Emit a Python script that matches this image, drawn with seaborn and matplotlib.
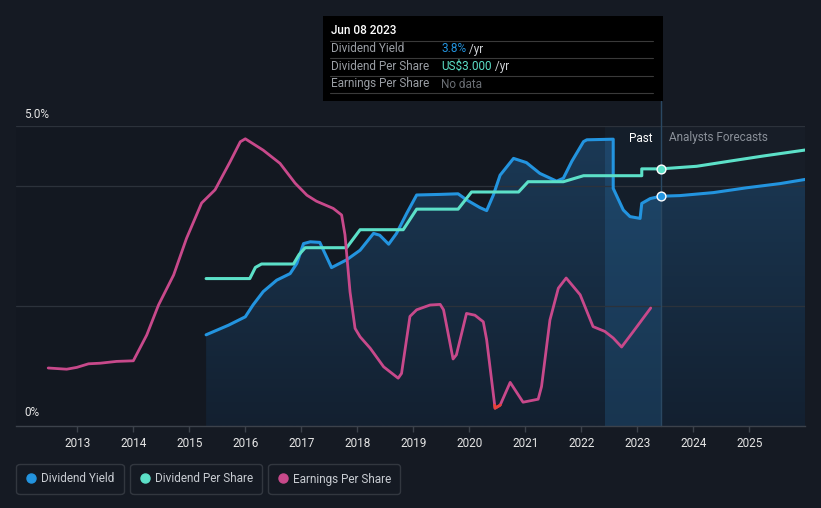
import numpy as np
import pandas as pd
import matplotlib
matplotlib.use("Agg")
import matplotlib.pyplot as plt
import seaborn as sns
from matplotlib.colors import LinearSegmentedColormap
from matplotlib.patches import Rectangle
from matplotlib.lines import Line2D

# ---------------- data ----------------
yield_years = [2015.30, 2015.70, 2016.00, 2016.14, 2016.32, 2016.56, 2016.80, 2016.92, 2017.04, 2017.16,
               2017.33, 2017.42, 2017.54, 2017.81, 2018.05, 2018.29, 2018.40, 2018.56, 2018.70, 2018.88,
               2019.06, 2019.48, 2019.80, 2019.95, 2020.19, 2020.31, 2020.43, 2020.55, 2020.79, 2021.02,
               2021.26, 2021.56, 2021.68, 2021.83, 2022.04, 2022.10, 2022.57, 2022.57, 2022.75, 2022.87,
               2023.05, 2023.08, 2023.23, 2023.42, 2023.76, 2024.36, 2024.95, 2025.55, 2026.00]
yield_pct = [1.52, 1.68, 1.82, 2.02, 2.24, 2.43, 2.54, 2.71, 3.04, 3.07,
             3.06, 2.88, 2.64, 2.77, 2.93, 3.21, 3.18, 3.03, 3.21, 3.54,
             3.85, 3.86, 3.87, 3.77, 3.64, 3.59, 3.85, 4.18, 4.46, 4.39,
             4.21, 4.08, 4.13, 4.41, 4.74, 4.77, 4.78, 3.96, 3.60, 3.49,
             3.46, 3.71, 3.79, 3.83, 3.84, 3.89, 3.97, 4.04, 4.11]

dps_years = [2015.30, 2016.08, 2016.18, 2016.29, 2016.86, 2016.96, 2017.07, 2017.81, 2018.05, 2018.82,
             2019.06, 2019.80, 2020.04, 2020.88, 2021.05, 2021.68, 2022.04, 2023.08, 2023.08, 2023.42,
             2024.06, 2024.65, 2025.25, 2026.00]
dps_usd = [1.72, 1.72, 1.85, 1.89, 1.89, 2.00, 2.08, 2.08, 2.29, 2.29,
           2.53, 2.53, 2.73, 2.73, 2.85, 2.85, 2.92, 2.92, 3.00, 3.00,
           3.03, 3.09, 3.15, 3.22]

eps_years = [2012.48, 2012.81, 2012.99, 2013.20, 2013.41, 2013.70, 2014.00, 2014.24, 2014.45, 2014.72,
             2014.95, 2015.22, 2015.46, 2015.73, 2015.91, 2016.00, 2016.32, 2016.62, 2016.89, 2017.10,
             2017.27, 2017.57, 2017.72, 2017.78, 2017.87, 2017.96, 2018.05, 2018.23, 2018.47, 2018.73,
             2018.79, 2018.94, 2019.06, 2019.30, 2019.48, 2019.54, 2019.71, 2019.77, 2019.95, 2020.10,
             2020.25, 2020.31, 2020.46, 2020.55, 2020.73, 2020.96, 2021.23, 2021.29, 2021.44, 2021.59,
             2021.73, 2021.98, 2022.21, 2022.42, 2022.57, 2022.72, 2022.93, 2023.24]
eps_val = [0.60, 0.58, 0.61, 0.67, 0.68, 0.71, 0.72, 1.15, 1.65, 2.15,
           2.76, 3.35, 3.57, 4.04, 4.37, 4.42, 4.23, 4.01, 3.68, 3.48,
           3.38, 3.26, 3.15, 2.82, 1.87, 1.26, 1.12, 0.93, 0.62, 0.43,
           0.51, 1.46, 1.57, 1.65, 1.66, 1.57, 0.75, 0.82, 1.51, 1.48,
           1.37, 1.07, -0.07, -0.02, 0.36, 0.03, 0.08, 0.29, 1.40, 1.93,
           2.10, 1.82, 1.29, 1.21, 1.10, 0.95, 1.21, 1.60]

year_ticks = list(range(2013, 2026))
now_year = 2023.42
past_start = 2022.43
tooltip_date = "Jun 08 2023"
tooltip_yield = "3.8%"
tooltip_dps = "US$3.000"

# ---------------- style ----------------
BG = "#151a23"
AX_BG = "#131821"
BLUE = "#2394df"
TEAL = "#5ce0c8"
PINK = "#c8498b"
GRID = "#2c323b"

sns.set_theme(style="dark")
plt.rcParams["font.family"] = ["Roboto", "DejaVu Sans"]

W, H = 821, 508
fig = plt.figure(figsize=(W / 100, H / 100), dpi=100, facecolor=BG)
L, R, T, B = 16, 805, 126, 426
ax = fig.add_axes([L / W, 1 - B / H, (R - L) / W, (B - T) / H])
ax.set_facecolor(AX_BG)
XMIN, XMAX = 2011.905, 2025.995
ax.set_xlim(XMIN, XMAX)
ax.set_ylim(0, 5)

# forecast background
ax.axvspan(now_year, XMAX, color="#171d27", zorder=0.2, lw=0)

# gradient fill under dividend yield
poly = ax.fill_between(yield_years, yield_pct, 0, color="none", lw=0)
fill_path = poly.get_paths()[0]
cmap = LinearSegmentedColormap.from_list("g", ["#132030", "#1b3a57"])
grad = np.linspace(0, 1, 256).reshape(-1, 1)
im = ax.imshow(grad, extent=[XMIN, XMAX, 0, 5], origin="lower", aspect="auto",
               cmap=cmap, zorder=0.5, interpolation="bilinear")
im.set_clip_path(fill_path, transform=ax.transData)

# past band: faint over full height, stronger inside the fill
ax.axvspan(past_start, now_year, color="#2a6fa6", alpha=0.07, zorder=0.6, lw=0)
band = ax.axvspan(past_start, now_year, color="#2a6fa6", alpha=0.22, zorder=0.6, lw=0)
band.set_clip_path(fill_path, transform=ax.transData)

# grid lines
for gy in [2, 4, 5]:
    ax.axhline(gy, color=GRID, lw=0.9, zorder=0.7)

# vertical "now" line
ax.plot([now_year, now_year], [0, 5.42], color="#2a4862", lw=1, zorder=0.8, clip_on=False)

line_kw = dict(estimator=None, sort=False, legend=False, solid_joinstyle="round",
               solid_capstyle="round")

# dividend yield
df_y = pd.DataFrame({"year": yield_years, "value": yield_pct})
sns.lineplot(data=df_y, x="year", y="value", ax=ax, color=BLUE, lw=2.2, zorder=3, **line_kw)

# DPS on hidden twin axis
ax2 = ax.twinx()
ax2.set_ylim(0, 3.5)
df_d = pd.DataFrame({"year": dps_years, "value": dps_usd})
sns.lineplot(data=df_d, x="year", y="value", ax=ax2, color=TEAL, lw=2.2, zorder=3, **line_kw)

# EPS on hidden twin axis
ax3 = ax.twinx()
ax3.set_ylim(-22 / 60, 5 - 22 / 60)
df_e = pd.DataFrame({"year": eps_years, "value": eps_val})
sns.lineplot(data=df_e, x="year", y="value", ax=ax3, color=PINK, lw=2.0, zorder=2, **line_kw)
neg = ax3.plot(eps_years, eps_val, color="#e8413a", lw=2.0, zorder=2.1,
               solid_joinstyle="round")[0]
clip = Rectangle((XMIN, -1), XMAX - XMIN, 1, transform=ax3.transData)
neg.set_clip_path(clip)

for a in (ax2, ax3):
    a.set_xlim(XMIN, XMAX)
    a.set_yticks([])
    a.set_ylabel("")
    a.patch.set_visible(False)
    for s in a.spines.values():
        s.set_visible(False)
    a.grid(False)

# markers at now
ax.scatter([now_year], [yield_pct[yield_years.index(now_year)]], s=40, color=BLUE,
           edgecolor="white", linewidth=1, zorder=5)
ax2.scatter([now_year], [dps_usd[dps_years.index(now_year)]], s=40, color=TEAL,
            edgecolor="white", linewidth=1, zorder=5)

# axes styling
ax.grid(False)
for s in ["top", "right", "left"]:
    ax.spines[s].set_visible(False)
ax.spines["bottom"].set_color("#3c424b")
ax.spines["bottom"].set_linewidth(1)
ax.set_xticks(year_ticks)
ax.set_xticklabels([str(y) for y in year_ticks])
ax.tick_params(axis="x", colors="#3c424b", length=4, width=1, direction="out",
               labelcolor="#e6e6e6", labelsize=8.5, pad=4, bottom=True)
ax.set_yticks([])
ax.set_xlabel("")
ax.set_ylabel("")

fig.text(24 / W, 1 - 114 / H, "5.0%", color="#e6e6e6", fontsize=8.5, va="center", ha="left")
fig.text(24 / W, 1 - 413 / H, "0%", color="#e6e6e6", fontsize=8.5, va="center", ha="left")

# Past / Analysts Forecasts
fig.text(652 / W, 1 - 138 / H, "Past", color="white", fontsize=8.5, ha="right", va="center")
fig.text(669 / W, 1 - 138 / H, "Analysts Forecasts", color="#8a9099", fontsize=8.5,
         ha="left", va="center")

# tooltip
fig.patches.append(Rectangle((323 / W, 1 - 101 / H), (663 - 323) / W, 85 / H,
                             transform=fig.transFigure, facecolor="#000000", edgecolor="none",
                             zorder=10))
fig.text(331 / W, 1 - 31 / H, tooltip_date, color="white", fontsize=8.5, ha="left",
         va="center", zorder=11, fontweight="medium")
for ly in [40.5, 58, 75.5, 93]:
    fig.add_artist(Line2D([330 / W, 653 / W], [1 - ly / H, 1 - ly / H], color="#3a3a3a",
                          lw=0.8, transform=fig.transFigure, zorder=11))
rows = [("Dividend Yield", 49, tooltip_yield, BLUE, " /yr"),
        ("Dividend Per Share", 66.5, tooltip_dps, TEAL, " /yr"),
        ("Earnings Per Share", 84, "No data", "#6a6e74", "")]
for lab, ry, val, col, suf in rows:
    fig.text(331 / W, 1 - ry / H, lab, color="#9a9ea4", fontsize=8.5, ha="left", va="center", zorder=11)
    t = fig.text(441 / W, 1 - ry / H, val, color=col, fontsize=8.5, ha="left", va="center", zorder=11)
    if suf:
        fig.canvas.draw()
        bb = t.get_window_extent()
        fig.text(bb.x1 / W, 1 - ry / H, suf, color="#cfd2d6", fontsize=8.5, ha="left",
                 va="center", zorder=11)

# legends (one boxed entry each)
entries = [("Dividend Yield", BLUE, 16), ("Dividend Per Share", TEAL, 130), ("Earnings Per Share", PINK, 268)]
for name, col, x0 in entries:
    h = Line2D([], [], marker="o", ls="", markersize=6.5, markerfacecolor=col, markeredgecolor=col)
    leg = fig.legend([h], [name], loc="center left", bbox_to_anchor=(x0 / W, 1 - 479 / H),
                     frameon=True, fontsize=8.5, handletextpad=0.4, borderpad=0.75,
                     handlelength=1.0, labelcolor="#c8ccd2", fancybox=True,
                     borderaxespad=0)
    fr = leg.get_frame()
    fr.set_facecolor(BG)
    fr.set_edgecolor("#3a3f47")
    fr.set_linewidth(1)
    fr.set_boxstyle("round,pad=0,rounding_size=0.3")

fig.savefig("out.png", dpi=100, facecolor=BG)
